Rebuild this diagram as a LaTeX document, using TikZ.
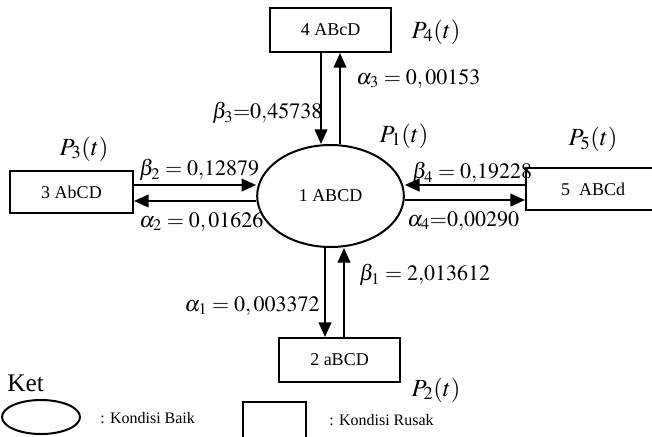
\documentclass[tikz,border=0pt]{standalone}
\usepackage{mathptmx}
\usepackage{fontspec}
\setmainfont{Liberation Serif}
\usetikzlibrary{arrows.meta,shapes.geometric}

\begin{document}
\begin{tikzpicture}[x=0.75pt,y=-0.75pt]
  \useasboundingbox (0,0) rectangle (652,436);
  \clip (0,0) rectangle (652,436);
  \tikzset{box/.style={draw,line width=1.5pt,rectangle,inner sep=0pt,minimum width=90.75pt,minimum height=33pt,font=\fontsize{13.5}{16}\selectfont},
    oval/.style={draw,line width=1.5pt,ellipse,inner sep=0pt,font=\fontsize{13.5}{16}\selectfont},
    arr/.style={line width=1.5pt,-{Triangle[length=11pt,width=9.5pt]}},
    rate/.style={inner sep=0pt,font=\fontsize{16.5}{20}\selectfont},
    prob/.style={inner sep=0pt,font=\fontsize{18.5}{20}\selectfont},
    ket/.style={inner sep=0pt,anchor=west,font=\fontsize{12}{14}\selectfont}}
  \node[oval,minimum width=110pt,minimum height=76.5pt] (s1) at (330.5,196) {1 ABCD};
  \node[box] (s4) at (330.5,30) {4 ABcD};
  \node[box,minimum width=92.25pt,minimum height=31.5pt] (s3) at (71.5,192) {3 AbCD};
  \node[box,minimum width=100.5pt,minimum height=31.5pt] (s5) at (593,189) {5\ \ ABCd};
  \node[box] (s2) at (339.5,360) {2 aBCD};
  \draw[arr] (s4.south -| 321,0) -- (s1.north -| 321,0);
  \draw[arr] (s1.north -| 340,0) -- (s4.south -| 340,0);
  \draw[arr] (s3.east |- 0,185) -- (s1.west |- 0,185);
  \draw[arr] (s1.west |- 0,201) -- (s3.east |- 0,201);
  \draw[arr] (s5.west |- 0,185) -- (s1.east |- 0,185);
  \draw[arr] (s1.east |- 0,200) -- (s5.west |- 0,200);
  \draw[arr] (s1.south -| 325,0) -- (s2.north -| 325,0);
  \draw[arr] (s2.north -| 344,0) -- (s1.south -| 344,0);
  \node[prob] (p4) at (436,32) {$P_4(t)$};
  \node[prob] (p1) at (404,136) {$P_1(t)$};
  \node[prob] (p3) at (84,149) {$P_3(t)$};
  \node[prob] (p5) at (593,139) {$P_5(t)$};
  \node[prob] (p2) at (436,390) {$P_2(t)$};
  \begin{scope}
    \clip (350,55) rectangle (490,100);
    \node[rate,anchor=west] (la3) at (356,79) {$\alpha_3 = 0,00153$};
  \end{scope}
  \node[rate,anchor=west] (lb3) at (212,113) {$\beta_3{=}0{,}45738$};
  \node[rate,anchor=west] (lb2) at (139,170) {$\beta_2 = 0{,}12879$};
  \node[rate,anchor=west] (la2) at (139,222) {$\alpha_2 = 0,01626$};
  \node[rate,anchor=west] (lb4) at (412,173) {$\beta_4 = 0{,}19228$};
  \node[rate,anchor=west] (la4) at (407,221) {$\alpha_4{=}0{,}00290$};
  \node[rate,anchor=west] (lb1) at (359,275) {$\beta_1 = 2{,}013612$};
  \node[rate,anchor=east] (la1) at (320,306) {$\alpha_1 = 0,003372$};
  \node[inner sep=0pt,anchor=west,font=\fontsize{19}{22}\selectfont] (ket) at (7,383) {Ket};
  \node[draw,ellipse,line width=1.5pt,minimum width=58.5pt,minimum height=25.5pt] (k1) at (41,417) {};
  \node[ket] (t1) at (100,418) {: Kondisi Baik};
  \node[draw,line width=1.5pt,minimum width=47pt,minimum height=34.5pt] (k2) at (274.5,425) {};
  \node[ket] (t2) at (329,420) {: Kondisi Rusak};
\end{tikzpicture}
\end{document}
